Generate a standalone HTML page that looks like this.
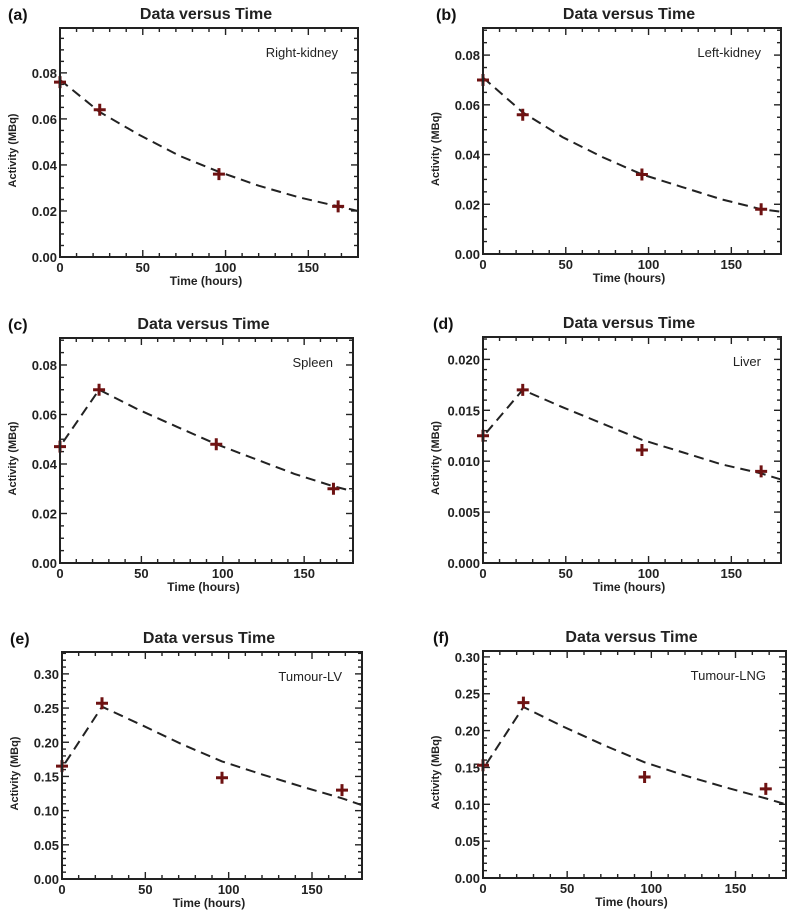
<!DOCTYPE html>
<html><head><meta charset="utf-8">
<style>
html,body{margin:0;padding:0;background:#fff;}
svg{display:block;font-family:"Liberation Sans",sans-serif;}
</style></head>
<body>
<svg id="fig" width="798" height="915" viewBox="0 0 798 915"></svg>
<script>
// ---- data ----
const timeHours = [0, 24, 96, 168];
const fitTimesA = [0, 24, 48, 72, 96, 120, 144, 168, 180];
const fitTimesB = [2, 24, 48, 72, 96, 120, 144, 168, 180];
const xTicks = [0, 50, 100, 150];

const activityA = [0.076, 0.064, 0.036, 0.022];
const fitA = [0.077, 0.063, 0.053, 0.044, 0.037, 0.031, 0.026, 0.022, 0.020];
const yTicksA = ["0.00", "0.02", "0.04", "0.06", "0.08"];

const activityB = [0.070, 0.056, 0.032, 0.018];
const fitB = [0.071, 0.057, 0.047, 0.039, 0.032, 0.027, 0.022, 0.018, 0.017];
const yTicksB = ["0.00", "0.02", "0.04", "0.06", "0.08"];

const activityC = [0.047, 0.070, 0.048, 0.030];
const fitC = [0.049, 0.070, 0.062, 0.055, 0.048, 0.042, 0.036, 0.031, 0.029];
const yTicksC = ["0.00", "0.02", "0.04", "0.06", "0.08"];

const activityD = [0.0125, 0.0170, 0.0111, 0.0090];
const fitD = [0.0128, 0.0170, 0.0153, 0.0137, 0.0121, 0.0109, 0.0097, 0.0088, 0.0082];
const yTicksD = ["0.000", "0.005", "0.010", "0.015", "0.020"];

const activityE = [0.165, 0.257, 0.148, 0.130];
const fitE = [0.170, 0.252, 0.225, 0.197, 0.172, 0.153, 0.135, 0.118, 0.108];
const yTicksE = ["0.00", "0.05", "0.10", "0.15", "0.20", "0.25", "0.30"];

const activityF = [0.153, 0.238, 0.137, 0.121];
const fitF = [0.155, 0.232, 0.205, 0.180, 0.157, 0.139, 0.123, 0.108, 0.100];
const yTicksF = ["0.00", "0.05", "0.10", "0.15", "0.20", "0.25", "0.30"];

// ---- layout ----
const panels = [
 {id:"a", label:"(a)", organ:"Right-kidney", x0:60, x1:358, y0:28, y1:257, ymax:0.0995, minor:0.005, data:activityA, fitT:fitTimesA, fit:fitA, ticks:yTicksA, lx:8},
 {id:"b", label:"(b)", organ:"Left-kidney", x0:483, x1:781, y0:28, y1:254, ymax:0.0909, minor:0.005, data:activityB, fitT:fitTimesA, fit:fitB, ticks:yTicksB, lx:436},
 {id:"c", label:"(c)", organ:"Spleen", x0:60, x1:353, y0:338, y1:563, ymax:0.0909, minor:0.005, data:activityC, fitT:fitTimesB, fit:fitC, ticks:yTicksC, lx:8},
 {id:"d", label:"(d)", organ:"Liver", x0:483, x1:781, y0:337, y1:563, ymax:0.0222, minor:0.001, data:activityD, fitT:fitTimesB, fit:fitD, ticks:yTicksD, lx:433},
 {id:"e", label:"(e)", organ:"Tumour-LV", x0:62, x1:362, y0:652, y1:879, ymax:0.332, minor:0.01, data:activityE, fitT:fitTimesB, fit:fitE, ticks:yTicksE, lx:10},
 {id:"f", label:"(f)", organ:"Tumour-LNG", x0:483, x1:786, y0:651, y1:878, ymax:0.308, minor:0.01, data:activityF, fitT:fitTimesB, fit:fitF, ticks:yTicksF, lx:433}
];
const XMAX = 180;
const NS = "http://www.w3.org/2000/svg";
const svg = document.getElementById("fig");
function mk(tag, attrs, parent){
  const el = document.createElementNS(NS, tag);
  for (const k in attrs) el.setAttribute(k, attrs[k]);
  parent.appendChild(el);
  return el;
}
panels.forEach(p => {
  const g = mk("g", {}, svg);
  
  
  const sx = v => p.x0 + (v / XMAX) * (p.x1 - p.x0);
  const sy = v => p.y1 - (v / p.ymax) * (p.y1 - p.y0);
  const lab = mk("text", {x:p.lx, y:p.y0 - 8, "font-size":16, "font-weight":"bold", fill:"#111"}, g);
  lab.textContent = p.label;
  
  
  const tt = mk("text", {x:(p.x0 + p.x1) / 2 - 3, y:p.y0 - 9, "font-size":16, "font-weight":"bold", fill:"#222", "text-anchor":"middle"}, g);
  tt.textContent = "Data versus Time";
  
  
  const tk = mk("g", {stroke:"#222", "stroke-width":1.4}, g);
  
  
  for (let t = 0; t <= XMAX; t += 10) {
    const L = (t % 50 === 0) ? 7 : 4;
    const X = sx(t);
    mk("line", {x1:X, y1:p.y1, x2:X, y2:p.y1 - L}, tk);
    mk("line", {x1:X, y1:p.y0, x2:X, y2:p.y0 + L}, tk);
  }
  const majorStep = parseFloat(p.ticks[1]);
  const nMinor = Math.floor(p.ymax / p.minor + 1e-6);
  for (let i = 0; i <= nMinor; i++) {
    const v = i * p.minor;
    const isMajor = Math.abs(v / majorStep - Math.round(v / majorStep)) < 1e-6;
    const L = isMajor ? 7 : 4;
    const Y = sy(v);
    mk("line", {x1:p.x0, y1:Y, x2:p.x0 + L, y2:Y}, tk);
    mk("line", {x1:p.x1, y1:Y, x2:p.x1 - L, y2:Y}, tk);
  }
  xTicks.forEach(t => {
    const tl = mk("text", {x:sx(t), y:p.y1 + 15, "font-size":13, "font-weight":"bold", fill:"#222", "text-anchor":"middle"}, g);
    tl.textContent = t;
    
    
  });
  p.ticks.forEach(s => {
    const tl = mk("text", {x:p.x0 - 3, y:sy(parseFloat(s)) + 5, "font-size":13, "font-weight":"bold", fill:"#222", "text-anchor":"end"}, g);
    tl.textContent = s;
    
    
  });
  const xt = mk("text", {x:(p.x0 + p.x1) / 2 - 3, y:p.y1 + 28, "font-size":12, "font-weight":"bold", fill:"#222", "text-anchor":"middle"}, g);
  xt.textContent = "Time (hours)";
  
  
  const yx = p.x0 - 44, yy = (p.y0 + p.y1) / 2 + 8;
  const yt = mk("text", {x:yx, y:yy, "font-size":11, "font-weight":"bold", fill:"#222", "text-anchor":"middle", transform:"rotate(-90 " + yx + " " + yy + ")"}, g);
  yt.textContent = "Activity (MBq)";
  
  
  const d = p.fitT.map((t, i) => (i ? "L" : "M") + sx(t).toFixed(1) + "," + sy(p.fit[i]).toFixed(1)).join(" ");
  const fl = mk("path", {d:d, fill:"none", stroke:"#222", "stroke-width":2, "stroke-dasharray":"10,6"}, g);
  
  
  timeHours.forEach((t, i) => {
    const X = sx(t), Y = sy(p.data[i]);
    const pt = mk("path", {d:"M" + (X - 6) + "," + Y + "H" + (X + 6) + "M" + X + "," + (Y - 6) + "V" + (Y + 6), stroke:"#6e1212", "stroke-width":3, fill:"none"}, g);
    
    
  });
  const fr = mk("rect", {x:p.x0, y:p.y0, width:p.x1 - p.x0, height:p.y1 - p.y0, fill:"none", stroke:"#222", "stroke-width":2}, g);
  
  
  const lg = mk("text", {x:p.x1 - 20, y:p.y0 + 29, "font-size":13, fill:"#222", "text-anchor":"end"}, g);
  lg.textContent = p.organ;
  
  
});
</script>
</body></html>
